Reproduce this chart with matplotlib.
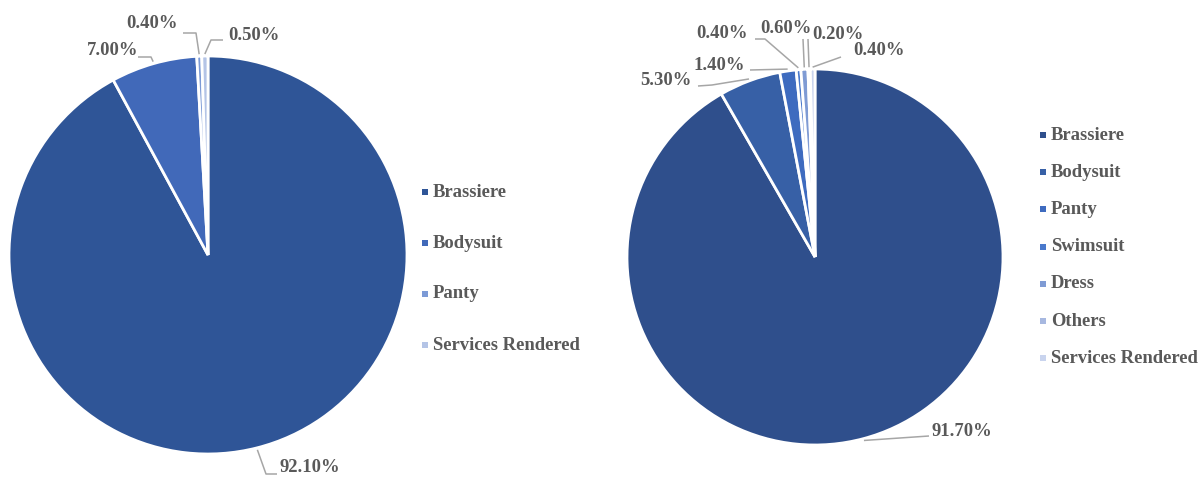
import numpy as np
import matplotlib.pyplot as plt

plt.rcParams["font.family"] = ["Liberation Serif", "DejaVu Serif"]

W, H = 1202, 479

# ---- data -----------------------------------------------------------
LEFT_CATS = ["Brassiere", "Bodysuit", "Panty", "Services Rendered"]
LEFT_VALS = [92.10, 7.00, 0.40, 0.50]
LEFT_COLORS = ["#2F5597", "#4169B9", "#7C9AD6", "#B4C4E6"]

RIGHT_CATS = ["Brassiere", "Bodysuit", "Panty", "Swimsuit", "Dress",
              "Others", "Services Rendered"]
RIGHT_VALS = [91.70, 5.30, 1.40, 0.40, 0.60, 0.20, 0.40]
RIGHT_COLORS = ["#2F4F8C", "#3760A6", "#3E6BBF", "#4A79CC", "#7F9BD4",
                "#A7B8E0", "#C9D4EE"]

# ---- layout (pixel coords, y measured from top) ---------------------
LEFT_PIE = dict(cx=208, cy=255, r=199)
RIGHT_PIE = dict(cx=815, cy=257, r=188)

# (text x, text y, ha, elbow points between text end and wedge edge)
LEFT_LABELS = [
    (279, 467, "left", [(277, 474), (266, 474)]),
    (138, 50, "right", [(138, 57), (151, 57)]),
    (178, 23, "right", [(183, 33), (196, 33)]),
    (228, 35, "left", [(223, 40), (211, 40)]),
]
RIGHT_LABELS = [
    (932, 432, "left", [(929, 436)]),
    (692, 80, "right", [(698, 86), (712, 85)]),
    (745, 65, "right", [(750, 70)]),
    (748, 33, "right", [(755, 39), (765, 39)]),
    (786, 28, "center", [(803, 39)]),
    (838, 34, "center", [(808, 39)]),
    (853, 50, "left", [(841, 57)]),
]

LEFT_LEGEND = dict(x=425, y0=192, dy=51)
RIGHT_LEGEND = dict(x=1043, y0=135, dy=37.2)

TEXT_COLOR = "#595959"
LINE_COLOR = "#A6A6A6"
FONT_SIZE = 13.4


def fy(y):
    return H - y


def draw_pie(ax, vals, colors, pie, labels):
    cx, cy, r = pie["cx"], fy(pie["cy"]), pie["r"]
    ax.pie(vals, colors=colors, startangle=90, counterclock=False,
           center=(cx, cy), radius=r,
           wedgeprops=dict(edgecolor="white", linewidth=2.0))
    cum = np.cumsum(vals) - np.array(vals) / 2
    mids = cum / np.sum(vals) * 360.0
    for v, m, (tx, ty, ha, elbows) in zip(vals, mids, labels):
        ang = np.deg2rad(m)
        ex = cx + r * 1.01 * np.sin(ang)
        ey = cy + r * 1.01 * np.cos(ang)
        pts = [(x, fy(y)) for x, y in elbows] + [(ex, ey)]
        xs, ys = zip(*pts)
        ax.plot(xs, ys, color=LINE_COLOR, lw=1.1, solid_capstyle="butt",
                zorder=3)
        ax.text(tx, fy(ty), f"{v:.2f}%", ha=ha, va="center",
                fontsize=FONT_SIZE, fontweight="bold", color=TEXT_COLOR)


def draw_legend(ax, cats, colors, leg):
    for i, (c, col) in enumerate(zip(cats, colors)):
        y = fy(leg["y0"] + i * leg["dy"])
        ax.scatter([leg["x"]], [y], marker="s", s=16, color=col,
                   linewidths=0)
        ax.text(leg["x"] + 8, y, c, ha="left", va="center",
                fontsize=FONT_SIZE, fontweight="bold", color=TEXT_COLOR)


fig = plt.figure(figsize=(W / 100, H / 100), dpi=100)
ax = fig.add_axes([0, 0, 1, 1])
ax.set_xlim(0, W)
ax.set_ylim(0, H)
ax.set_aspect("equal")
ax.axis("off")

draw_pie(ax, LEFT_VALS, LEFT_COLORS, LEFT_PIE, LEFT_LABELS)
draw_pie(ax, RIGHT_VALS, RIGHT_COLORS, RIGHT_PIE, RIGHT_LABELS)
draw_legend(ax, LEFT_CATS, LEFT_COLORS, LEFT_LEGEND)
draw_legend(ax, RIGHT_CATS, RIGHT_COLORS, RIGHT_LEGEND)

ax.set_xlim(0, W)
ax.set_ylim(0, H)

fig.savefig("out.png", dpi=100)
